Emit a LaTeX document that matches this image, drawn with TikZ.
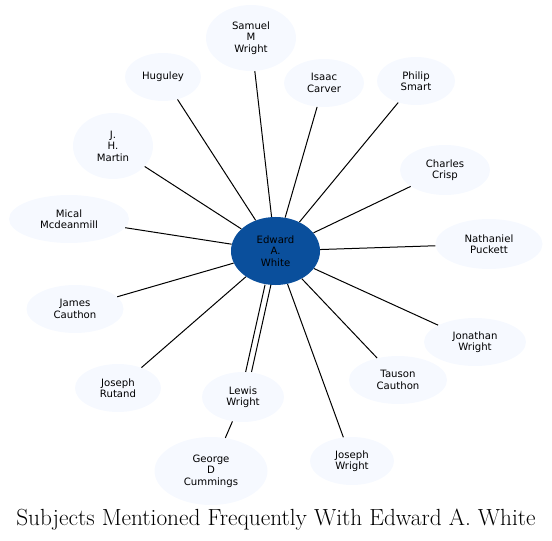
\documentclass[tikz,border=0pt]{standalone}
\usepackage{fontspec}
\newfontfamily\nodefont{DejaVu Sans}
\usetikzlibrary{shapes.geometric}
\definecolor{pale}{RGB}{246,249,255}
\definecolor{hub}{RGB}{10,79,156}
\tikzset{
  person/.style={ellipse, fill=pale, inner sep=0pt, font=\nodefont\fontsize{7.6}{8.6}\selectfont, align=center},
  sz/.style 2 args={minimum width=#1*0.75pt, minimum height=#2*0.75pt},
  link/.style={draw=black, line width=0.75pt},
}
\begin{document}
\begin{tikzpicture}[x=0.75pt,y=-0.75pt]
\useasboundingbox (0,0) rectangle (552,541);
\node[person, fill=hub, sz={89}{68}] (E) at (275.5,251) {Edward\\A.\\White};
\node[person, sz={90}{66}] (SMW) at (251,38) {Samuel\\M\\Wright};
\node[person, sz={76}{48}] (HU) at (163,77) {Huguley};
\node[person, sz={80}{66}] (JHM) at (113,146) {J.\\H.\\Martin};
\node[person, sz={80}{48}] (IC) at (324,83) {Isaac\\Carver};
\node[person, sz={78}{48}] (PS) at (416,81) {Philip\\Smart};
\node[person, sz={90}{50}] (CC) at (445,170) {Charles\\Crisp};
\node[person, sz={120}{48}] (MM) at (69,219) {Mical\\Mcdeanmill};
\node[person, sz={97}{48}] (JC) at (75,309) {James\\Cauthon};
\node[person, sz={107}{50}] (NP) at (489,244) {Nathaniel\\Puckett};
\node[person, sz={102}{48}] (JW) at (475,342) {Jonathan\\Wright};
\node[person, sz={98}{48}] (TC) at (398,380) {Tauson\\Cauthon};
\node[person, sz={86}{48}] (JR) at (118,388) {Joseph\\Rutand};
\node[person, sz={82}{50}] (LW) at (243,397) {Lewis\\Wright};
\node[person, sz={113}{68}] (GDC) at (211,471) {George\\D\\Cummings};
\node[person, sz={84}{48}] (JOW) at (352,461) {Joseph\\Wright};
\node[font=\fontsize{17.5}{20}\selectfont, anchor=base] (T) at (276,525) {Subjects Mentioned Frequently With Edward A. White};
\foreach \n in {SMW,HU,JHM,IC,PS,CC,MM,JC,NP,JW,TC,JR,JOW}{
  \draw[link] (E) -- (\n);
}
\draw[link, transform canvas={xshift=-2.2pt}] (E) -- (LW);
\draw[link, transform canvas={xshift=2.2pt}] (E) -- (LW);
\draw[link] (LW) -- (GDC);
\end{tikzpicture}
\end{document}
